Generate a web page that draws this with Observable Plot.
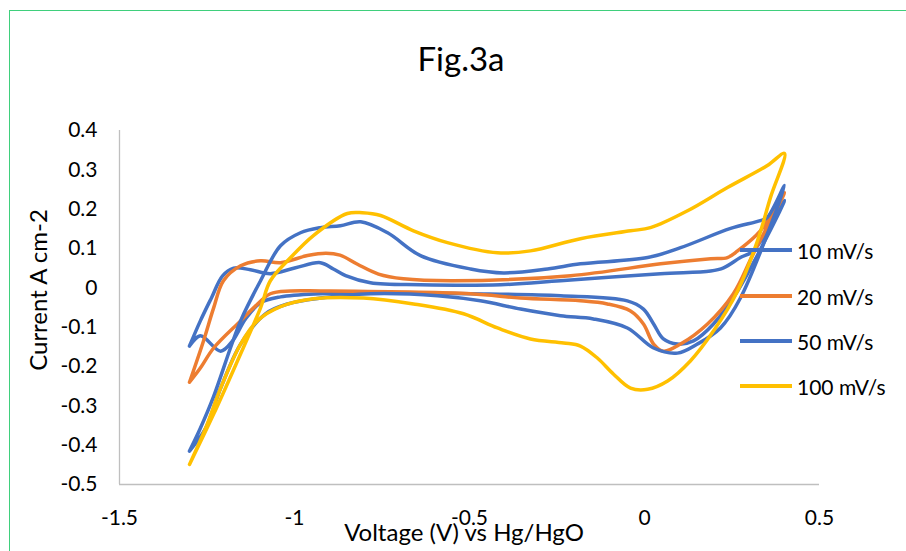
<!DOCTYPE html>
<html>
<head>
<meta charset="utf-8">
<script src="https://cdn.jsdelivr.net/npm/d3@7"></script>
<script src="https://cdn.jsdelivr.net/npm/@observablehq/plot@0.6"></script>
<style>
  html, body { margin: 0; padding: 0; background: #fff; }
  #wrap { position: relative; width: 906px; height: 551px; overflow: hidden; font-family: Lato, "Open Sans", sans-serif; color: #000; }
  #frame { position: absolute; left: 9px; top: 10px; width: 1200px; height: 1200px; border: 1.5px solid #3fcf7c; box-sizing: border-box; }
  #chart { position: absolute; left: 0; top: 0; }
  .lbl { position: absolute; white-space: nowrap; line-height: 1; transform: translate(-50%, -50%); }
  #title { left: 461px; top: 58px; font-size: 33px; }
  #xtitle { left: 464px; top: 532px; font-size: 24px; }
  #ytitle { left: 38px; top: 290px; font-size: 24px; transform: translate(-50%, -50%) rotate(-90deg); }
  #legend { position: absolute; left: 740px; top: 0; }
  .item { position: absolute; left: 0; height: 0; }
  .item .sw { position: absolute; left: 0; top: -1.75px; width: 52px; height: 3.5px; }
  .item .tx { position: absolute; left: 57px; top: 0; transform: translateY(-50%); font-size: 21px; line-height: 1; white-space: nowrap; }
</style>
</head>
<body>
<div id="wrap">
  <div id="frame"></div>
  <div id="chart"></div>
  <div id="title" class="lbl">Fig.3a</div>
  <div id="xtitle" class="lbl">Voltage (V) vs Hg/HgO</div>
  <div id="ytitle" class="lbl">Current A cm-2</div>
  <div id="legend"></div>
</div>
<script>
// ---- data ----
const scanRates = ["10 mV/s", "20 mV/s", "50 mV/s", "100 mV/s"];
const seriesColors = ["#4472C4", "#ED7D31", "#4472C4", "#FFC000"];
const xTicks = [-1.5, -1, -0.5, 0, 0.5];
const yTicks = [-0.5, -0.4, -0.3, -0.2, -0.1, 0, 0.1, 0.2, 0.3, 0.4];

const v10 = [-1.3, -1.269, -1.237, -1.206, -1.174, -1.126, -1.069, -0.997, -0.926, -0.889, -0.854, -0.783, -0.64, -0.411, -0.24, 0.046, 0.189, 0.226, 0.274, 0.311, 0.4,
             0.266, 0.197, 0.14, 0.094, 0.054, 0.026, -0.003, -0.049, -0.24, -0.497, -0.783, -0.926, -1.04, -1.097, -1.14, -1.177, -1.211, -1.269, -1.3];
const i10 = [-0.148, -0.084, -0.025, 0.03, 0.05, 0.046, 0.036, 0.051, 0.064, 0.048, 0.031, 0.013, 0.008, 0.008, 0.018, 0.036, 0.043, 0.051, 0.077, 0.094, 0.222,
             -0.008, -0.092, -0.135, -0.143, -0.13, -0.092, -0.054, -0.033, -0.02, -0.015, -0.013, -0.015, -0.023, -0.038, -0.079, -0.135, -0.161, -0.122, -0.148];

const v20 = [-1.3, -1.26, -1.231, -1.203, -1.154, -1.097, -1.04, -0.963, -0.91, -0.87, -0.82, -0.76, -0.689, -0.546, -0.211, 0.046, 0.189, 0.237, 0.266, 0.331, 0.4,
             0.311, 0.254, 0.18, 0.103, 0.054, 0.026, -0.003, -0.04, -0.106, -0.183, -0.354, -0.497, -0.926, -1.011, -1.069, -1.117, -1.154, -1.231, -1.269, -1.3];
const i20 = [-0.24, -0.135, -0.051, 0.018, 0.056, 0.069, 0.064, 0.082, 0.088, 0.083, 0.06, 0.035, 0.023, 0.018, 0.031, 0.061, 0.074, 0.077, 0.094, 0.145, 0.242,
             0.087, -0.015, -0.092, -0.143, -0.161, -0.143, -0.092, -0.059, -0.041, -0.033, -0.026, -0.015, -0.008, -0.008, -0.015, -0.051, -0.084, -0.153, -0.204, -0.24];

const v50 = [-1.3, -1.269, -1.231, -1.183, -1.154, -1.097, -1.04, -0.983, -0.926, -0.869, -0.811, -0.734, -0.64, -0.497, -0.403, -0.277, -0.183, 0.009, 0.103, 0.246, 0.331, 0.351, 0.4,
             0.274, 0.217, 0.151, 0.094, 0.026, -0.049, -0.146, -0.24, -0.354, -0.469, -0.591, -0.783, -0.926, -1.02, -1.083, -1.154, -1.211, -1.254, -1.3];
const i50 = [-0.415, -0.357, -0.276, -0.153, -0.084, 0.018, 0.107, 0.14, 0.153, 0.158, 0.168, 0.14, 0.082, 0.048, 0.038, 0.048, 0.061, 0.077, 0.102, 0.151, 0.171, 0.179, 0.26,
             -0.026, -0.102, -0.143, -0.166, -0.153, -0.102, -0.079, -0.071, -0.054, -0.033, -0.02, -0.015, -0.026, -0.041, -0.066, -0.143, -0.255, -0.357, -0.415];

const v100 = [-1.3, -1.231, -1.163, -1.097, -1.069, -1.011, -0.946, -0.849, -0.806, -0.754, -0.66, -0.563, -0.42, -0.326, -0.183, -0.04, 0.017, 0.123, 0.237, 0.351, 0.4,
              0.36, 0.323, 0.266, 0.197, 0.131, 0.066, 0.009, -0.04, -0.089, -0.134, -0.183, -0.231, -0.326, -0.42, -0.517, -0.66, -0.803, -0.946, -1.04, -1.106, -1.154, -1.211, -1.254, -1.3];
const i100 = [-0.449, -0.321, -0.186, -0.051, 0.018, 0.077, 0.133, 0.189, 0.191, 0.184, 0.145, 0.115, 0.089, 0.094, 0.125, 0.145, 0.153, 0.196, 0.255, 0.311, 0.342,
              0.23, 0.12, -0.008, -0.11, -0.186, -0.237, -0.258, -0.255, -0.219, -0.179, -0.148, -0.14, -0.13, -0.102, -0.066, -0.041, -0.026, -0.028, -0.048, -0.084, -0.143, -0.255, -0.357, -0.449];

// ---- build table ----
const voltages = [v10, v20, v50, v100];
const currents = [i10, i20, i50, i100];
const rows = scanRates.map((name, k) => voltages[k].map((v, j) => ({series: name, V: v, I: currents[k][j]})));

const fmt = d => String(Math.round(d * 10) / 10);

const chart = Plot.plot({
  width: 906,
  height: 551,
  marginLeft: 119,
  marginRight: 87,
  marginTop: 130,
  marginBottom: 67,
  style: {fontFamily: "Lato, 'Open Sans', sans-serif", fontSize: "21px", color: "#000", background: "transparent"},
  x: {domain: [-1.5, 0.5]},
  y: {domain: [-0.5, 0.4]},
  marks: [
    Plot.ruleX([-1.5], {stroke: "#bfbfbf", strokeWidth: 1.3}),
    Plot.ruleY([-0.5], {stroke: "#bfbfbf", strokeWidth: 1.3}),
    Plot.axisX(xTicks, {tickSize: 0, tickPadding: 26, tickFormat: fmt, label: null, fontSize: 21}),
    Plot.axisY(yTicks, {tickSize: 0, tickPadding: 22, tickFormat: fmt, label: null, fontSize: 21}),
    ...rows.map((r, k) => Plot.line(r, {x: "V", y: "I", stroke: seriesColors[k], strokeWidth: 3.5, curve: "catmull-rom"}))
  ]
});
document.getElementById("chart").appendChild(chart);

// ---- legend ----
const legendY = [250, 296, 341, 386];
const legend = d3.select("#legend");
scanRates.forEach((name, k) => {
  const it = legend.append("div").attr("class", "item").style("top", legendY[k] + "px");
  it.append("div").attr("class", "sw").style("background", seriesColors[k]);
  it.append("div").attr("class", "tx").text(name);
});
</script>
</body>
</html>
